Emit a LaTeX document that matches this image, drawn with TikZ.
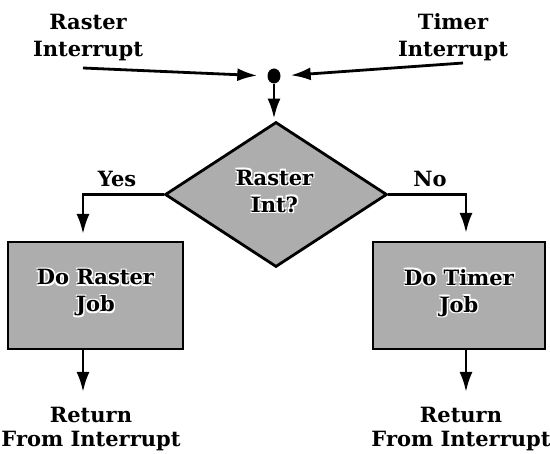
\documentclass[tikz,border=0pt]{standalone}
\usepackage{fontspec}
\setmainfont{DejaVu Serif}
\usetikzlibrary{shapes.geometric,arrows.meta}
\newcommand\hcopy[3]{\makebox[0pt][l]{\hspace*{#1}\raisebox{#2}{\textcolor{white}{#3}}}}
\newcommand\hl[1]{\hcopy{-1.3pt}{-1.3pt}{#1}\hcopy{1.3pt}{1.3pt}{#1}\hcopy{-1.3pt}{1.3pt}{#1}\hcopy{1.3pt}{-1.3pt}{#1}#1}
\tikzset{
  lbl/.style={font=\fontsize{21}{27}\selectfont\bfseries, align=center, inner sep=0pt},
  lblb/.style={font=\fontsize{21}{24}\selectfont\bfseries, align=center, inner sep=0pt},
  shade/.style={draw=black, fill=black!32},
  conn/.style={line width=2.8pt, -{Latex[length=20pt,width=13pt]}},
}
\begin{document}
\begin{tikzpicture}[x=1pt,y=-1pt]
\useasboundingbox (0,0) rectangle (550,454);
\node[lbl] (rl) at (88,37.4) {Raster\\Interrupt};
\node[lbl] (tl) at (453,37.4) {Timer\\Interrupt};
\node[ellipse, fill=black, inner sep=0pt, minimum width=13pt, minimum height=15pt] (dot) at (274,76) {};
\coordinate (rs) at (83,68);
\coordinate (ts) at (463,63);
\node[diamond, shade, line width=2.8pt, minimum width=222pt, minimum height=145pt, inner sep=0pt] (dia) at (276,194.5) {};
\node[lbl] (dt) at (274.5,191) {\hl{Raster}\\\hl{Int?}};
\node[rectangle, shade, line width=2pt, minimum width=175pt, minimum height=107pt] (lb) at (95.5,295.5) {};
\node[rectangle, shade, line width=2pt, minimum width=172pt, minimum height=107pt] (rb) at (459,295.5) {};
\node[lbl] (lbt) at (95.5,293) {\hl{Do Raster}\\\hl{Job}};
\node[lbl] (rbt) at (459,293) {\hl{Do Timer}\\\hl{Job}};
\node[lbl] (yes) at (117,179.4) {Yes};
\node[lbl] (no) at (430,179.4) {No};
\node[lblb] (lr) at (91,428.9) {Return\\From Interrupt};
\node[lblb] (rr) at (461,428.9) {Return\\From Interrupt};
\coordinate (lt) at (83,392);
\coordinate (rt) at (466,392);
\draw[conn, shorten >=10pt] (rs) -- (dot.west);
\draw[conn, shorten >=10pt] (ts) -- (dot.east);
\draw[conn, shorten >=2pt] (dot.south) -- (dot.south |- dia.north);
\draw[conn, shorten >=7pt] (dia.west) -| (lb.north -| lt);
\draw[conn, shorten >=8pt] (dia.east) -| (rb.north -| rt);
\draw[conn] (lb.south -| lt) -- (lt);
\draw[conn] (rb.south -| rt) -- (rt);
\end{tikzpicture}
\end{document}
